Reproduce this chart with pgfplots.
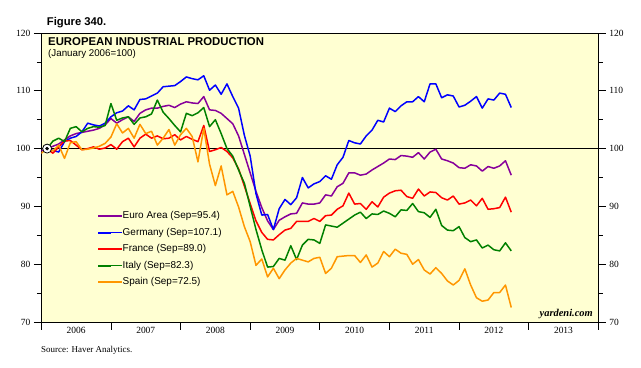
\documentclass[border=0pt]{standalone}
\usepackage{pgfplots}
\pgfplotsset{compat=1.18}
\usepackage{fontspec}
\setmainfont{Liberation Serif}
\setsansfont{Liberation Sans}
\definecolor{bgy}{RGB}{255,255,210}
\definecolor{cEuro}{RGB}{135,0,155}
\definecolor{cGer}{RGB}{0,0,255}
\definecolor{cFra}{RGB}{255,0,0}
\definecolor{cIta}{RGB}{0,128,0}
\definecolor{cSpa}{RGB}{255,150,0}
\begin{document}
\begin{tikzpicture}
\useasboundingbox (0,0) rectangle (641bp,368bp);
\begin{axis}[
  at={(41.3bp,46bp)}, anchor=south west,
  scale only axis, width=557bp, height=289bp,
  xmin=0, xmax=96, ymin=70, ymax=120,
  axis background/.style={fill=bgy},
  axis line style={line width=0.8pt},
  every tick/.style={black, line width=0.8pt},
  tick align=outside,
  xtick pos=bottom, ytick pos=left,
  xtick={0,12,...,96}, xticklabels={},
  major tick length=7.5bp, minor tick length=4.5bp,
  extra x ticks={6,18,30,42,54,66,78,90},
  extra x tick labels={2006,2007,2008,2009,2010,2011,2012,2013},
  extra x tick style={major tick length=0pt, xticklabel style={yshift=-1.5bp}},
  ytick={70,80,...,120}, minor ytick={75,85,...,115},
  /pgf/number format/assume math mode=true,
  ticklabel style={font=\fontsize{9.5}{11}\selectfont},
  legend style={at={(0.100,0.384)}, anchor=north west, draw=none, fill=none,
    font=\sffamily\fontsize{10}{12}\selectfont, row sep=6.5bp, inner sep=0pt,
    nodes={text height=7.5bp, text depth=2.5bp, inner sep=0pt}},
  legend cell align=left,
  legend image code/.code={\draw[#1, line width=1.6pt] (0bp,0bp) -- (13bp,0bp); \path (0bp,0bp) -- (24bp,0bp);},
  line join=round,
]
\addplot[black, line width=0.9pt, forget plot] coordinates {(0,100) (96,100)};
\addplot[cEuro, line width=1.5pt] coordinates {
(0,99.6) (1,100.0) (2,100.4) (3,100.8) (4,101.5) (5,102.2) (6,102.6) (7,102.8) (8,103.0) (9,103.2)
(10,103.5) (11,104.1) (12,105.2) (13,104.4) (14,105.0) (15,105.5) (16,104.7) (17,106.1) (18,106.7) (19,107.0)
(20,107.0) (21,107.3) (22,107.5) (23,107.1) (24,107.7) (25,108.1) (26,107.9) (27,107.8) (28,109.0) (29,106.7)
(30,106.6) (31,106.1) (32,105.2) (33,104.3) (34,102.2) (35,99.0) (36,95.8) (37,92.6) (38,89.8) (39,87.5)
(40,86.0) (41,87.6) (42,88.2) (43,88.7) (44,88.8) (45,90.6) (46,90.4) (47,90.4) (48,90.6) (49,92.0)
(50,91.8) (51,93.4) (52,94.0) (53,95.8) (54,95.8) (55,95.4) (56,95.6) (57,96.3) (58,96.9) (59,97.5)
(60,98.2) (61,98.1) (62,98.8) (63,98.7) (64,98.5) (65,99.3) (66,98.2) (67,99.4) (68,99.9) (69,98.2)
(70,97.9) (71,97.5) (72,96.7) (73,96.6) (74,97.2) (75,97.0) (76,96.1) (77,96.9) (78,96.6) (79,97.0)
(80,97.9) (81,95.4)};
\addlegendentry{Euro Area (Sep=95.4)}
\addplot[cGer, line width=1.5pt] coordinates {
(1,100.0) (2,99.7) (3,99.4) (4,101.2) (5,101.8) (6,102.1) (7,102.9) (8,104.4) (9,104.1)
(10,103.9) (11,104.4) (12,105.5) (13,106.2) (14,106.5) (15,107.4) (16,106.7) (17,108.5) (18,108.6) (19,109.1)
(20,109.6) (21,110.7) (22,110.8) (23,110.9) (24,111.6) (25,112.4) (26,112.1) (27,111.9) (28,112.6) (29,110.1)
(30,111.0) (31,109.4) (32,111.2) (33,109.0) (34,107.0) (35,102.3) (36,98.7) (37,92.2) (38,88.5) (39,88.6)
(40,86.0) (41,89.6) (42,91.2) (43,90.3) (44,91.5) (45,95.0) (46,93.2) (47,93.9) (48,94.3) (49,95.3)
(50,94.7) (51,97.2) (52,98.5) (53,101.4) (54,101.0) (55,100.8) (56,102.2) (57,103.2) (58,104.9) (59,104.6)
(60,107.0) (61,106.4) (62,107.4) (63,108.1) (64,108.1) (65,109.0) (66,108.1) (67,111.2) (68,111.2) (69,108.8)
(70,109.3) (71,109.1) (72,107.2) (73,107.5) (74,108.2) (75,109.0) (76,107.0) (77,108.6) (78,108.4) (79,109.6)
(80,109.4) (81,107.1)};
\addlegendentry{Germany (Sep=107.1)}
\addplot[cFra, line width=1.5pt] coordinates {
(1,100.0) (2,99.2) (3,100.3) (4,101.3) (5,101.4) (6,100.6) (7,99.8) (8,100.0) (9,100.3)
(10,99.9) (11,100.1) (12,100.7) (13,99.9) (14,101.2) (15,101.8) (16,100.3) (17,101.8) (18,102.5) (19,101.8)
(20,102.2) (21,101.7) (22,101.8) (23,102.4) (24,101.5) (25,102.1) (26,101.6) (27,101.2) (28,104.0) (29,99.5)
(30,99.8) (31,100.2) (32,99.5) (33,98.4) (34,96.5) (35,93.5) (36,90.5) (37,87.5) (38,85.5) (39,84.3)
(40,84.2) (41,85.1) (42,85.9) (43,86.2) (44,87.4) (45,87.4) (46,87.4) (47,87.9) (48,87.4) (49,88.4)
(50,88.5) (51,89.5) (52,90.1) (53,92.3) (54,90.4) (55,90.5) (56,89.5) (57,90.8) (58,89.9) (59,91.6)
(60,92.3) (61,92.7) (62,92.8) (63,91.7) (64,91.4) (65,93.0) (66,91.8) (67,92.5) (68,92.4) (69,91.5)
(70,91.1) (71,91.8) (72,90.4) (73,90.6) (74,91.1) (75,90.1) (76,91.4) (77,89.5) (78,89.6) (79,89.8)
(80,91.6) (81,89.0)};
\addlegendentry{France (Sep=89.0)}
\addplot[cIta, line width=1.5pt] coordinates {
(1,100.0) (2,101.3) (3,101.8) (4,101.2) (5,103.5) (6,103.8) (7,102.9) (8,103.5) (9,103.8)
(10,103.7) (11,104.0) (12,107.8) (13,104.9) (14,105.3) (15,105.5) (16,104.2) (17,105.3) (18,105.5) (19,106.0)
(20,108.4) (21,106.3) (22,105.2) (23,104.0) (24,102.9) (25,106.1) (26,105.7) (27,106.2) (28,107.1) (29,103.8)
(30,105.0) (31,102.6) (32,100.0) (33,98.7) (34,96.3) (35,94.0) (36,90.0) (37,86.0) (38,82.5) (39,79.5)
(40,79.6) (41,81.0) (42,80.7) (43,83.2) (44,80.8) (45,83.3) (46,84.3) (47,84.2) (48,83.6) (49,86.8)
(50,86.6) (51,86.4) (52,87.1) (53,87.8) (54,88.5) (55,89.0) (56,87.9) (57,88.7) (58,88.6) (59,89.2)
(60,88.8) (61,88.2) (62,89.4) (63,89.3) (64,90.5) (65,89.1) (66,88.9) (67,88.1) (68,89.5) (69,86.7)
(70,85.9) (71,85.8) (72,86.5) (73,84.6) (74,83.9) (75,84.2) (76,82.8) (77,83.3) (78,82.5) (79,82.3)
(80,83.7) (81,82.3)};
\addlegendentry{Italy (Sep=82.3)}
\addplot[cSpa, line width=1.5pt] coordinates {
(0,99.2) (1,100.0) (2,99.6) (3,100.6) (4,98.3) (5,101.0) (6,101.2) (7,99.8) (8,99.9) (9,100.1)
(10,100.4) (11,100.9) (12,102.0) (13,104.3) (14,102.7) (15,103.5) (16,101.8) (17,104.2) (18,102.6) (19,103.0)
(20,100.6) (21,101.8) (22,103.3) (23,100.6) (24,102.4) (25,103.5) (26,102.1) (27,97.7) (28,103.5) (29,97.3)
(30,93.6) (31,97.0) (32,92.0) (33,92.6) (34,89.9) (35,86.5) (36,83.9) (37,79.8) (38,80.9) (39,77.8)
(40,79.3) (41,77.5) (42,79.0) (43,80.2) (44,81.0) (45,80.7) (46,80.4) (47,81.0) (48,81.2) (49,78.4)
(50,79.3) (51,81.3) (52,81.4) (53,81.5) (54,81.5) (55,80.3) (56,81.6) (57,79.5) (58,80.2) (59,82.2)
(60,81.3) (61,82.6) (62,81.9) (63,81.7) (64,80.0) (65,80.8) (66,79.0) (67,78.3) (68,79.4) (69,78.4)
(70,77.1) (71,76.4) (72,77.2) (73,79.2) (74,76.4) (75,74.2) (76,73.6) (77,73.8) (78,75.1) (79,75.1)
(80,76.4) (81,72.5)};
\addlegendentry{Spain (Sep=72.5)}
\addplot[only marks, mark=*, mark size=4.5bp, mark options={fill=white, draw=black, line width=0.8pt}, forget plot] coordinates {(1,100)};
\addplot[only marks, mark=*, mark size=1.7bp, black, forget plot] coordinates {(1,100)};
\end{axis}
\begin{axis}[
  at={(41.3bp,46bp)}, anchor=south west,
  scale only axis, width=557bp, height=289bp,
  xmin=0, xmax=96, ymin=70, ymax=120,
  axis y line*=right, axis x line=none,
  axis line style={line width=0.8pt},
  every tick/.style={black, line width=0.8pt},
  tick align=outside,
  major tick length=7.5bp, minor tick length=4.5bp,
  ytick={70,80,...,120}, minor ytick={75,85,...,115},
  /pgf/number format/assume math mode=true,
  ticklabel style={font=\fontsize{9.5}{11}\selectfont},
]
\addplot[draw=none] coordinates {(0,100)};
\end{axis}
\node[anchor=base west, inner sep=0pt, font=\sffamily\bfseries\fontsize{11.3}{13}\selectfont] at (46.7bp,342bp) {Figure 340.};
\node[anchor=base west, inner sep=0pt, font=\sffamily\bfseries\fontsize{11.4}{13}\selectfont] at (48bp,322bp) {EUROPEAN INDUSTRIAL PRODUCTION};
\node[anchor=base west, inner sep=0pt, font=\sffamily\fontsize{9.8}{11}\selectfont] at (48bp,311.5bp) {(January 2006=100)};
\node[anchor=base west, inner sep=0pt, font=\fontsize{9}{11}\selectfont] at (41bp,16bp) {Source: Haver Analytics.};
\node[anchor=base east, inner sep=0pt, font=\bfseries\itshape\fontsize{10.5}{12}\selectfont] at (593bp,51bp) {yardeni.com};
\end{tikzpicture}
\end{document}
